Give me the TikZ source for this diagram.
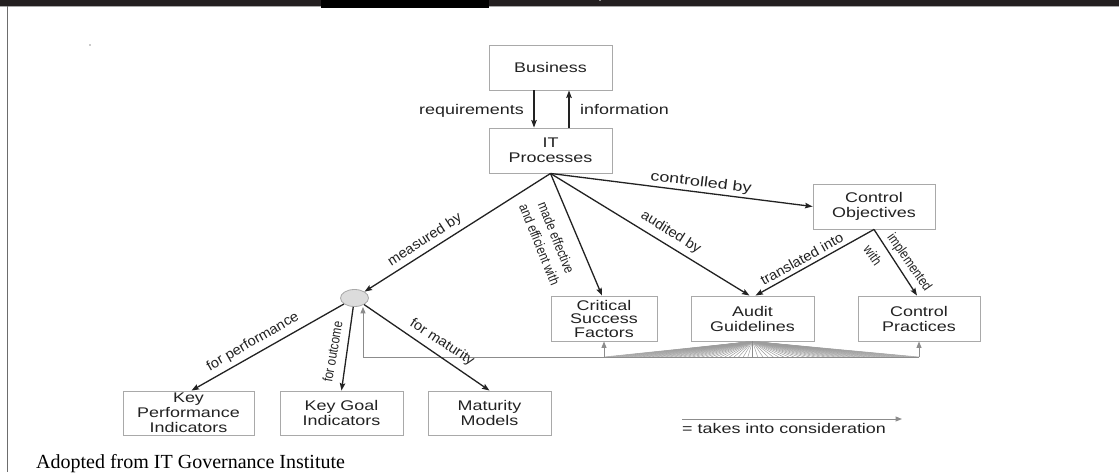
\documentclass[tikz,border=0pt]{standalone}
\usepackage{fontspec}
\setmainfont{Liberation Sans}
\newfontfamily\boxfont[FakeStretch=1.28]{Liberation Sans}
\newfontfamily\lblfont[FakeStretch=1.05]{Liberation Sans}
\newfontfamily\condfont[FakeStretch=0.83]{Liberation Sans}
\newfontfamily\capfont{Liberation Serif}
\usetikzlibrary{arrows.meta,shapes.geometric,calc}
\definecolor{ink}{HTML}{222222}
\definecolor{boxline}{HTML}{A9A9A9}
\definecolor{consid}{HTML}{8C8C8C}
\definecolor{barcol}{HTML}{231F20}
\definecolor{dotfill}{HTML}{DCDCDC}
\definecolor{frameline}{HTML}{6D6D6D}

\begin{document}
\begin{tikzpicture}[x=1pt,y=-1pt,
  stepbox/.style={draw=boxline, line width=0.9pt, fill=white, inner sep=0pt,
    align=center, text=ink, minimum height=45pt, minimum width=123pt,
    font=\boxfont\fontsize{14}{15}\selectfont},
  rel/.style={draw=ink, line width=1.3pt,
    -{Stealth[length=7.5pt,width=5.5pt,inset=1.2pt]}},
  consider/.style={draw=consid, line width=1pt},
  considarrow/.style={consider, -{Triangle[length=6.5pt,width=5pt]}},
  fanline/.style={draw=consid!85, line width=0.5pt},
  lbl/.style={inner sep=0pt, text=ink, font=\lblfont\fontsize{14}{16}\selectfont},
  clbl/.style={inner sep=0pt, text=ink, align=center,
    font=\condfont\fontsize{14}{18}\selectfont},
  blbl/.style={inner sep=0pt, text=ink, font=\boxfont\fontsize{14}{16}\selectfont},
]
\useasboundingbox (0,0) rectangle (1119,472);
\fill[white] (0,0) rectangle (1119,472);

% page frame: top bar, tab and left rule
\fill[barcol] (0,0) rectangle (1119,6);
\draw[boxline, line width=1.2pt] (0,6.6) -- (1119,6.6);
\fill[black] (321,0) rectangle (489,8);
\fill[consid] (599,0) rectangle (601,1.2);
\draw[frameline, line width=1.5pt] (7.3,6) -- (7.3,472);
\fill[ink] (90,45) circle (0.7);

% boxes
\node[stepbox] (biz) at (550.5,67.5) {Business};
\node[stepbox] (itp) at (550.5,150.5) {IT\\Processes};
\node[stepbox, minimum width=122pt] (cobj) at (874,206.5) {Control\\Objectives};
\node[stepbox, minimum width=106pt, font=\boxfont\fontsize{14}{13.5}\selectfont] (csf) at (604,318.5) {Critical\\Success\\Factors};
\node[stepbox] (aud) at (752.5,318.5) {Audit\\Guidelines};
\node[stepbox, minimum width=122pt] (cp) at (919,318.5) {Control\\Practices};
\node[stepbox, minimum width=131pt, minimum height=44pt] (kpi) at (188.5,413) {Key\\Performance\\Indicators};
\node[stepbox, minimum height=44pt] (kgi) at (341.5,413) {Key Goal\\Indicators};
\node[stepbox, minimum height=44pt] (mm) at (489.5,413) {Maturity\\Models};
\node[ellipse, draw=boxline, fill=dotfill, line width=0.8pt, inner sep=0pt,
  minimum width=28pt, minimum height=17pt] (circ) at (354.5,298) {};

% "takes into consideration" links
\coordinate (gl) at (363,357);
\foreach \i in {0,...,32} {
  \draw[fanline] (aud.south) -- ($(csf.south |- gl)!\i/32!(aud.south |- gl)$);
  \draw[fanline] (aud.south) -- ($(cp.south |- gl)!\i/32!(aud.south |- gl)$);
}
\draw[consider] (gl) -- (cp.south |- gl);
\draw[consider] (aud.south |- gl) -- (aud.south);
\draw[considarrow] (gl) -- (gl |- circ.south);
\draw[considarrow] (csf.south |- gl) -- (csf.south);
\draw[considarrow] (cp.south |- gl) -- (cp.south);

% relations
\draw[rel] ([xshift=-16.5pt]biz.south) -- ([xshift=-16.5pt]itp.north);
\draw[rel] ([xshift=18.5pt]itp.north) -- ([xshift=18.5pt]biz.south);
\draw[rel] (itp.south) -- (cobj.west);
\draw[rel] (itp.south) -- ([xshift=-2pt]csf.north);
\draw[rel] (itp.south) -- ([xshift=-3pt]aud.north);
\draw[rel] (cobj.south) -- ([xshift=3pt]aud.north);
\draw[rel] (cobj.south) -- ([xshift=-2pt]cp.north);
\draw[rel] (itp.south) -- (circ);
\draw[rel] (circ) -- ([xshift=3pt]kpi.north);
\draw[rel] (circ) -- (kgi.north);
\draw[rel] (circ) -- (mm.north);

% relation labels
\node[blbl, anchor=base east] (lreq) at (524,114) {requirements};
\node[blbl, anchor=base west] (linf) at (580,114) {information};
\node[blbl, rotate=-7] (lctl) at (701,183) {controlled by};
\node[clbl, rotate=-68] (lmade) at (548,241) {made effective\\and efficient with};
\node[lbl, rotate=-32] (laud) at (670.8,232.5) {audited by};
\node[lbl, rotate=29] (ltr) at (801.7,259) {translated into};
\node[clbl, rotate=-55] (limp) at (909,262.5) {implemented};
\node[clbl, rotate=-55] (lwith) at (873,255) {with};
\node[lbl, rotate=33] (lmeas) at (425,240) {measured by};
\node[lbl, rotate=30] (lperf) at (253,342) {for performance};
\node[clbl, rotate=80] (lout) at (332.5,351.7) {for outcome};
\node[lbl, rotate=-33] (lmat) at (442,342.5) {for maturity};

% legend
\coordinate (lgA) at (682,419);
\coordinate (lgB) at (902,419);
\draw[considarrow] (lgA) -- (lgB);
\node[blbl, anchor=base west] (lgtext) at (682,433.5) {= takes into consideration};

% source line
\node[anchor=base west, inner sep=0pt, font=\capfont\fontsize{20}{24}\selectfont] (src)
  at (36,468) {Adopted from IT Governance Institute};
\end{tikzpicture}
\end{document}
